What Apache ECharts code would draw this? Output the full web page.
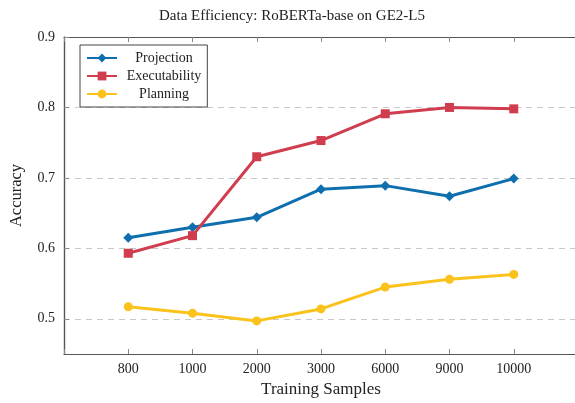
<!DOCTYPE html>
<html>
<head>
<meta charset="utf-8">
<script src="https://cdn.jsdelivr.net/npm/echarts@6/dist/echarts.min.js"></script>
<style>
  html, body { margin: 0; padding: 0; background: #fff; }
  #chart { width: 575px; height: 403px; }
</style>
</head>
<body>
<div id="chart"></div>
<script>
var samples = ['800', '1000', '2000', '3000', '6000', '9000', '10000'];
var projection = [0.615, 0.630, 0.644, 0.684, 0.689, 0.674, 0.699];
var executability = [0.593, 0.618, 0.730, 0.753, 0.791, 0.800, 0.798];
var planning = [0.517, 0.508, 0.497, 0.514, 0.545, 0.556, 0.563];
var yTicks = [0.5, 0.6, 0.7, 0.8, 0.9];

var font = 'Liberation Serif';

// x positions 1..7, axis padded by one slot on each side
function pts(vals) {
    return vals.map(function(v, i) { return [i + 1, v]; });
}

function makeSeries(name, vals, color, symbol, size) {
    return {
        name: name,
        type: 'line',
        data: pts(vals),
        symbol: symbol,
        symbolSize: size,
        itemStyle: { color: color },
        lineStyle: { color: color, width: 3 },
        emphasis: { disabled: true },
        animation: false
    };
}

var xLabel = function(v) {
    return samples[v - 1] || '';
};

var chart = echarts.init(document.getElementById('chart'));
chart.setOption({
    backgroundColor: '#fff',
    textStyle: { fontFamily: font },
    title: {
        text: 'Data Efficiency: RoBERTa-base on GE2-L5',
        left: 287, top: 4, textAlign: 'center',
        textStyle: { fontFamily: font, fontSize: 15, fontWeight: 'normal', color: '#222' }
    },
    grid: { left: 64, top: 37, width: 514, height: 317, outerBoundsMode: 'none', containLabel: false },
    legend: {
        left: 80, top: 45,
        orient: 'vertical',
        itemWidth: 30, itemHeight: 11, itemGap: 4,
        padding: [6, 6, 6, 6],
        borderColor: '#444', borderWidth: 1,
        backgroundColor: '#fff',
        formatter: function(name) { return '{c|' + name + '}'; },
        textStyle: {
            fontFamily: font, fontSize: 14, color: '#222',
            rich: { c: { width: 84, align: 'center', fontFamily: font, fontSize: 14, color: '#222' } }
        },
        data: ['Projection', 'Executability', 'Planning']
    },
    xAxis: [{
        type: 'value', min: 0, max: 8, interval: 1,
        name: 'Training Samples', nameLocation: 'middle', nameGap: 27,
        nameTextStyle: { fontFamily: font, fontSize: 17, color: '#222' },
        axisLine: { lineStyle: { color: '#555', width: 1.2 } },
        axisTick: { inside: true, length: 5, lineStyle: { color: '#888' } },
        axisLabel: { formatter: xLabel, fontFamily: font, fontSize: 14, color: '#222', margin: 8 },
        splitLine: { show: false }
    }, {
        type: 'value', min: 0, max: 8, interval: 1, position: 'top',
        axisLine: { lineStyle: { color: '#555', width: 1.2 } },
        axisTick: { inside: true, length: 5, lineStyle: { color: '#888' } },
        axisLabel: { show: false },
        splitLine: { show: false }
    }],
    yAxis: [{
        type: 'value', min: 0.45, max: 0.9,
        name: 'Accuracy', nameLocation: 'middle', nameGap: 39, nameRotate: 90,
        nameTextStyle: { fontFamily: font, fontSize: 16.5, color: '#222' },
        axisLine: { show: true, lineStyle: { color: '#555', width: 1.2 } },
        axisTick: {
            show: true, inside: true, length: 5, lineStyle: { color: '#888' },
            customValues: yTicks
        },
        axisLabel: {
            fontFamily: font, fontSize: 14, color: '#222', margin: 9,
            customValues: yTicks,
            formatter: function(v) { return v.toFixed(1); }
        },
        splitLine: {
            show: true,
            lineStyle: { color: '#c8c8c8', type: [6, 5], width: 1 }
        }
    }, {
        type: 'value', min: 0.45, max: 0.9, position: 'right',
        axisLine: { show: true, lineStyle: { color: '#555', width: 1.2 } },
        axisTick: { show: false },
        axisLabel: { show: false },
        splitLine: { show: false }
    }],
    series: [
        makeSeries('Projection', projection, '#0f6fae', 'diamond', 10),
        makeSeries('Executability', executability, '#d03d4f', 'rect', 9),
        makeSeries('Planning', planning, '#fbc21c', 'circle', 9)
    ]
});
</script>
</body>
</html>
